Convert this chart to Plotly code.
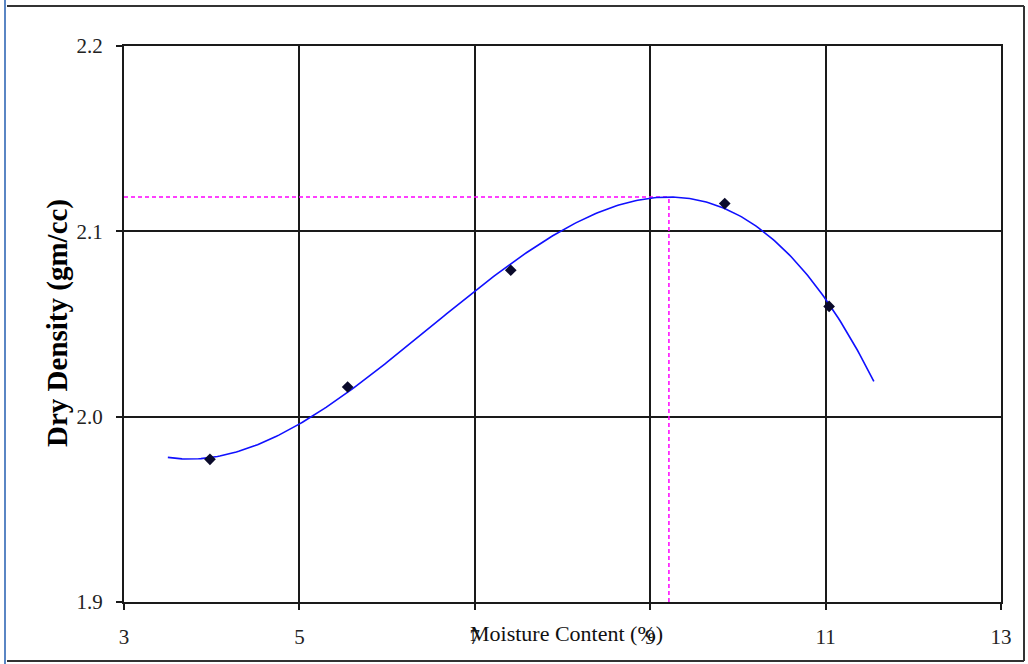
import numpy as np
import plotly.graph_objects as go

# Compaction test results
moisture = [3.98, 5.55, 7.41, 9.85, 11.04]      # moisture content (%)
dry_density = [1.977, 2.016, 2.079, 2.115, 2.0595]  # dry density (gm/cc)

# Extent of the fitted trendline along the moisture axis
trend_start, trend_end = 3.5, 11.55

x_ticks = [3, 5, 7, 9, 11, 13]
y_ticks = [1.9, 2.0, 2.1, 2.2]

# Third-order polynomial trendline through the test points
coef = np.polyfit(moisture, dry_density, 3)
poly = np.poly1d(coef)
xs = np.linspace(trend_start, trend_end, 300)
ys = poly(xs)

# Optimum moisture content / maximum dry density from the trendline peak
xf = np.linspace(trend_start, trend_end, 5000)
i_peak = int(np.argmax(poly(xf)))
omc, mdd = float(xf[i_peak]), float(poly(xf[i_peak]))

fig = go.Figure()

guide = dict(color="#ff00ff", width=1.5, dash="4px,3px")
fig.add_trace(go.Scatter(x=[x_ticks[0], omc], y=[mdd, mdd], mode="lines",
                         line=guide, hoverinfo="skip", showlegend=False))
fig.add_trace(go.Scatter(x=[omc, omc], y=[y_ticks[0], mdd], mode="lines",
                         line=guide, hoverinfo="skip", showlegend=False))

fig.add_trace(go.Scatter(x=xs, y=ys, mode="lines",
                         line=dict(color="#1010ff", width=1.6),
                         showlegend=False))

fig.add_trace(go.Scatter(x=moisture, y=dry_density, mode="markers",
                         marker=dict(symbol="diamond", size=9, color="#0a0a2a"),
                         showlegend=False))

axis_common = dict(
    showline=True, linecolor="#1a1a1a", linewidth=2, mirror=True,
    showgrid=True, gridcolor="#1a1a1a", gridwidth=1.6,
    zeroline=False, ticks="outside", ticklen=6, tickwidth=2, tickcolor="#1a1a1a",
    tickfont=dict(family="Liberation Serif", size=21, color="#222222"),
)

fig.update_xaxes(range=[x_ticks[0], x_ticks[-1]], tickvals=x_ticks,
                 ticklabelstandoff=9, **axis_common)
fig.update_yaxes(range=[y_ticks[0], y_ticks[-1]], tickvals=y_ticks,
                 tickformat=".1f", ticklabelstandoff=9, **axis_common)

def px_x(p):
    return (p - 124) / 877

def px_y(p):
    return (602 - p) / 556

fig.add_annotation(text="Moisture Content (%)", xref="paper", yref="paper",
                   x=px_x(566), y=px_y(633), showarrow=False,
                   xanchor="center", yanchor="middle",
                   font=dict(family="Liberation Serif", size=22, color="#111111"))
fig.add_annotation(text="<b>Dry Density (gm/cc)</b>", xref="paper", yref="paper",
                   x=px_x(57), y=px_y(323), showarrow=False, textangle=-90,
                   xanchor="center", yanchor="middle",
                   font=dict(family="Liberation Serif", size=29, color="#000000"))

# Outer chart frame
frame = dict(color="#333333", width=2)
fig.add_shape(type="line", xref="paper", yref="paper",
              x0=px_x(7), x1=px_x(1024), y0=px_y(6), y1=px_y(6), line=frame)
fig.add_shape(type="line", xref="paper", yref="paper",
              x0=px_x(7), x1=px_x(1024), y0=px_y(661), y1=px_y(661), line=frame)
fig.add_shape(type="line", xref="paper", yref="paper",
              x0=px_x(1024), x1=px_x(1024), y0=px_y(6), y1=px_y(661), line=frame)
fig.add_shape(type="line", xref="paper", yref="paper",
              x0=px_x(5), x1=px_x(5), y0=px_y(0), y1=px_y(664),
              line=dict(color="#5a86c4", width=2))

fig.update_layout(
    width=1028, height=664,
    margin=dict(l=124, r=27, t=46, b=62),
    paper_bgcolor="white", plot_bgcolor="white",
    showlegend=False,
)

fig.write_html("out.html")
